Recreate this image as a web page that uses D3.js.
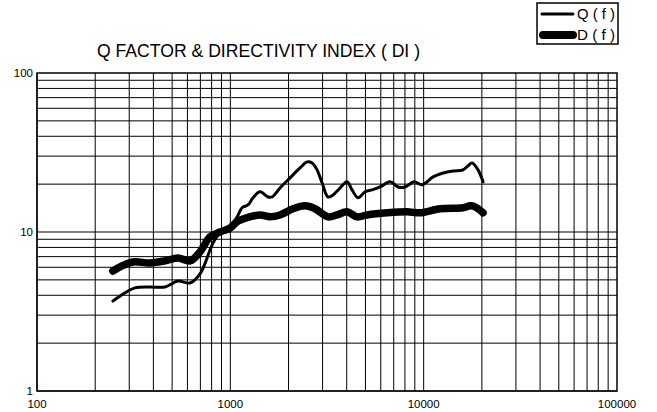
<!DOCTYPE html>
<html>
<head>
<meta charset="utf-8">
<script src="https://cdn.jsdelivr.net/npm/d3@7.9.0/dist/d3.min.js"></script>
<style>
  body { margin: 0; background: #fff; }
  text { font-family: "Liberation Sans", Arial, sans-serif; fill: #000; }
</style>
</head>
<body>
<svg id="chart" width="657" height="412"></svg>
<script>
// Q(f) curve
const qFreq = [247, 285, 321, 384, 459, 536, 619, 697, 814, 884, 997, 1083, 1150, 1235, 1310, 1424,
  1567, 1643, 1807, 2036, 2294, 2494, 2648, 2809, 2982, 3203, 3398, 3694, 4016, 4262, 4577, 4976,
  5408, 5949, 6702, 7372, 8013, 8920, 9811, 11185, 12600, 14195, 15990, 16970, 17800, 19110, 20290];
const qValues = [3.68, 4.14, 4.45, 4.51, 4.51, 4.92, 4.78, 5.45, 8.54, 9.87, 10.8, 12.4, 14.2, 14.8, 16.4, 17.9,
  16.6, 16.6, 18.9, 21.9, 25.3, 27.6, 27.2, 24.6, 20.4, 16.6, 17.1, 18.9, 20.7, 18.4, 16.4, 17.9,
  18.4, 19.2, 20.7, 19.2, 19.2, 20.7, 19.8, 22.2, 23.5, 24.2, 24.6, 26.1, 27.2, 24.6, 20.7];

// D(f) curve
const dFreq = [247, 275, 314, 384, 459, 536, 619, 697, 785, 884, 997, 1083, 1221, 1424, 1605, 1807,
  2110, 2435, 2743, 3203, 3565, 4016, 4524, 5096, 6466, 8206, 9581, 12160, 15990, 17380, 18450, 20290];
const dValues = [5.69, 6.12, 6.48, 6.39, 6.58, 6.87, 6.58, 7.5, 9.32, 10.0, 10.6, 11.6, 12.3, 12.8, 12.45, 12.8,
  14.0, 14.6, 14.0, 12.45, 12.8, 13.4, 12.45, 12.8, 13.2, 13.4, 13.2, 14.0, 14.2, 14.6, 14.4, 13.2];

const xTickLabels = [100, 1000, 10000, 100000];
const yTickLabels = [1, 10, 100];
const legendLabels = ['Q ( f )', 'D ( f )'];
const title = 'Q FACTOR & DIRECTIVITY INDEX ( DI )';

const svg = d3.select('#chart');
const plotLeft = 37, plotRight = 617, plotTop = 73, plotBottom = 391;

const x = d3.scaleLog().domain([100, 100000]).range([plotLeft, plotRight]);
const y = d3.scaleLog().domain([1, 100]).range([plotBottom, plotTop]);

// grid lines at every 1..9 of each decade
let xGrid = [];
for (let dec = 100; dec < 100000; dec *= 10) {
  for (let k = 1; k <= 9; k++) xGrid.push(dec * k);
}
let yGrid = [];
for (let dec = 1; dec < 100; dec *= 10) {
  for (let k = 1; k <= 9; k++) yGrid.push(dec * k);
}

const grid = svg.append('g');
grid.selectAll('line.v').data(xGrid).join('line')
  .attr('x1', d => x(d)).attr('x2', d => x(d))
  .attr('y1', plotTop).attr('y2', plotBottom)
  .attr('stroke', '#000').attr('stroke-width', 1);
grid.selectAll('line.h').data(yGrid).join('line')
  .attr('x1', plotLeft).attr('x2', plotRight)
  .attr('y1', d => y(d)).attr('y2', d => y(d))
  .attr('stroke', '#000').attr('stroke-width', 1);

svg.append('rect')
  .attr('x', plotLeft).attr('y', plotTop)
  .attr('width', plotRight - plotLeft).attr('height', plotBottom - plotTop)
  .attr('fill', 'none').attr('stroke', '#000').attr('stroke-width', 1.5);

// axis labels
svg.append('g').selectAll('text').data(xTickLabels).join('text')
  .attr('x', d => x(d)).attr('y', 408)
  .attr('text-anchor', 'middle').attr('font-size', 11.5)
  .text(d => d);
svg.append('g').selectAll('text').data(yTickLabels).join('text')
  .attr('x', 33).attr('y', d => y(d) + 4)
  .attr('text-anchor', 'end').attr('font-size', 11.5)
  .text(d => d);

// curves
const line = d3.line().curve(d3.curveCatmullRom.alpha(0.5));
const qPts = qFreq.map((f, i) => [x(f), y(qValues[i])]);
const dPts = dFreq.map((f, i) => [x(f), y(dValues[i])]);

svg.append('path').attr('d', line(dPts))
  .attr('fill', 'none').attr('stroke', '#000').attr('stroke-width', 7.5)
  .attr('stroke-linecap', 'round').attr('stroke-linejoin', 'round');
svg.append('path').attr('d', line(qPts))
  .attr('fill', 'none').attr('stroke', '#000').attr('stroke-width', 3)
  .attr('stroke-linecap', 'round').attr('stroke-linejoin', 'round');

// title (slightly condensed face in the original)
svg.append('text')
  .attr('x', 97).attr('y', 57)
  .attr('font-size', 19)
  .attr('textLength', 323).attr('lengthAdjust', 'spacingAndGlyphs')
  .text(title);

// legend
const lg = svg.append('g');
lg.append('rect').attr('x', 537).attr('y', 3).attr('width', 81).attr('height', 41)
  .attr('fill', '#fff').attr('stroke', '#000').attr('stroke-width', 1.5);
lg.append('line').attr('x1', 542).attr('x2', 573).attr('y1', 14).attr('y2', 14)
  .attr('stroke', '#000').attr('stroke-width', 3).attr('stroke-linecap', 'round');
lg.append('line').attr('x1', 543).attr('x2', 573).attr('y1', 35).attr('y2', 35)
  .attr('stroke', '#000').attr('stroke-width', 8).attr('stroke-linecap', 'round');
lg.selectAll('text.lab').data(legendLabels).join('text')
  .attr('x', 577).attr('y', (d, i) => 19 + i * 21)
  .attr('font-size', 14)
  .attr('textLength', 38).attr('lengthAdjust', 'spacingAndGlyphs')
  .text(d => d);
</script>
</body>
</html>
